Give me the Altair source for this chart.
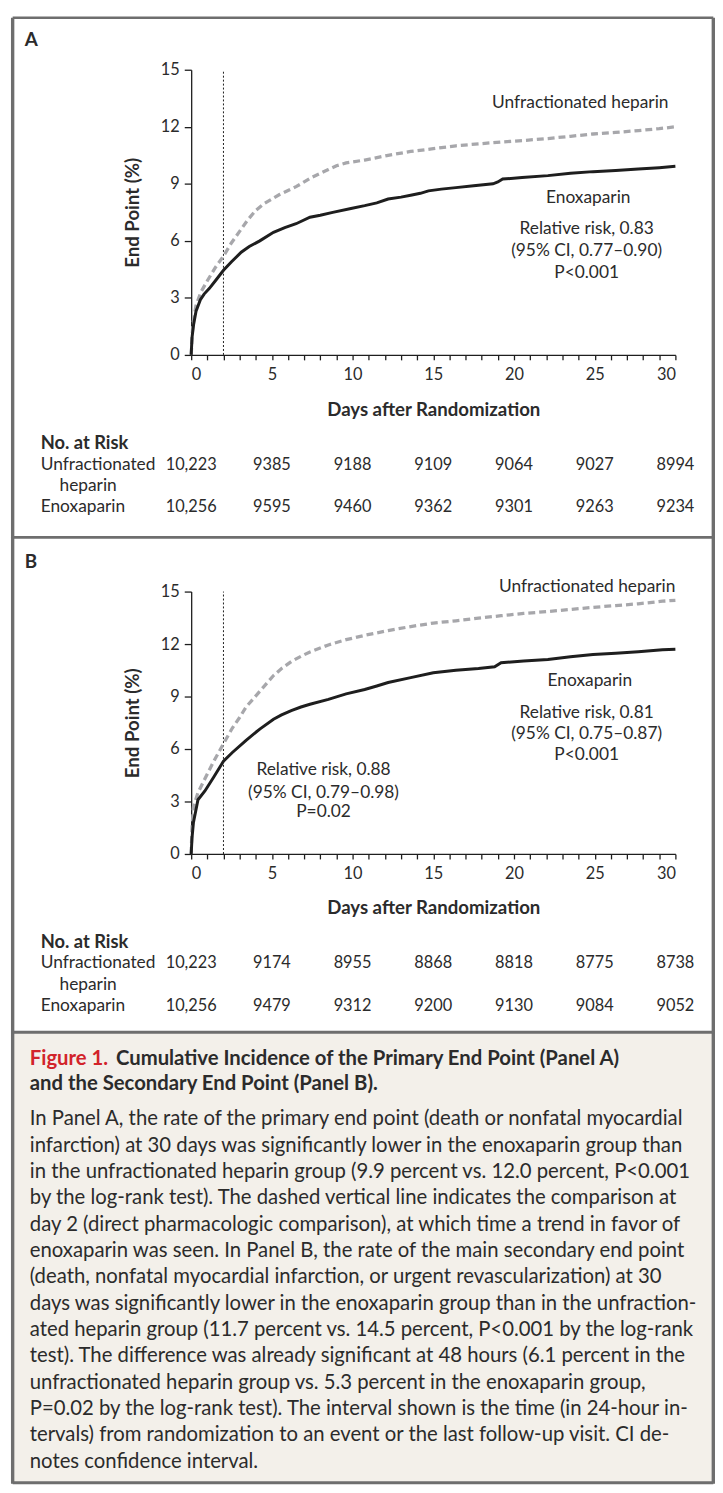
import altair as alt
import pandas as pd

FONT = "Lato"
INK = "#1e1e1e"
TXT = "#2b2b2b"
GRAY_LINE = "#a7a7ab"
BORDER = "#6e6e6e"
BEIGE = "#f3f0ea"
RED = "#d2232a"

# ---------------- data ----------------
a_ufh_day = [0, 0.1, 0.3, 0.6, 1.0, 1.5, 2.0, 2.5, 3.0, 3.5, 4.0, 4.5, 5.0, 5.5, 6.0, 6.5,
             7.0, 7.5, 8.0, 8.5, 9.0, 9.6, 10.75, 12.2, 13.6, 15.0, 16.4, 17.8, 19.2, 20.9,
             22.1, 23.5, 24.9, 26.3, 27.7, 29.0, 30.0]
a_ufh_pct = [0, 1.6, 2.6, 3.3, 3.9, 4.6, 5.2, 5.9, 6.5, 7.1, 7.6, 7.95, 8.2, 8.45, 8.65, 8.85,
             9.1, 9.35, 9.55, 9.75, 9.95, 10.1, 10.25, 10.5, 10.7, 10.85, 11.0, 11.1, 11.2, 11.3,
             11.38, 11.5, 11.62, 11.7, 11.8, 11.9, 12.0]
a_enox_day = [0, 0.05, 0.15, 0.3, 0.57, 0.8, 1.13, 1.5, 2.0, 2.5, 3.1, 3.6, 4.25, 5.1, 5.8, 6.5,
              7.36, 8.0, 8.77, 9.9, 10.75, 11.5, 12.2, 13.0, 13.6, 14.2, 14.7, 15.5, 16.4, 17.5,
              18.7, 19.0, 19.3, 20.5, 22.1, 23.5, 24.9, 26.3, 27.7, 29.0, 30.0]
a_enox_pct = [0, 0.9, 1.6, 2.3, 2.9, 3.2, 3.5, 3.9, 4.45, 4.9, 5.4, 5.7, 6.0, 6.45, 6.7, 6.9,
              7.24, 7.35, 7.5, 7.7, 7.85, 8.0, 8.2, 8.3, 8.4, 8.5, 8.63, 8.72, 8.8, 8.9,
              9.0, 9.1, 9.25, 9.33, 9.43, 9.55, 9.64, 9.7, 9.78, 9.85, 9.92]

b_ufh_day = [0, 0.05, 0.14, 0.42, 0.85, 1.4, 2.0, 2.55, 3.0, 3.4, 4.25, 5.1, 5.6, 6.2, 6.8, 7.36,
             8.5, 9.6, 10.75, 12.2, 13.6, 15.0, 16.4, 17.8, 19.2, 20.6, 22.1, 23.5, 24.9, 26.3,
             27.7, 29.2, 30.0]
b_ufh_pct = [0, 1.5, 2.7, 3.5, 4.3, 5.3, 6.3, 7.2, 7.8, 8.4, 9.3, 10.2, 10.6, 11.0, 11.3, 11.55,
             11.95, 12.25, 12.5, 12.77, 13.0, 13.2, 13.33, 13.48, 13.62, 13.75, 13.86, 13.98, 14.1, 14.2,
             14.3, 14.45, 14.5]
b_enox_day = [0, 0.05, 0.14, 0.42, 0.85, 1.4, 2.0, 2.55, 3.4, 4.25, 5.1, 5.6, 6.2, 6.8, 7.36, 8.5,
              9.6, 10.75, 11.5, 12.2, 13.6, 15.0, 16.4, 17.8, 18.8, 19.2, 20.6, 22.1, 23.5, 24.9,
              26.3, 27.7, 29.2, 30.0]
b_enox_pct = [0, 0.9, 1.8, 3.1, 3.6, 4.4, 5.3, 5.8, 6.5, 7.14, 7.7, 7.95, 8.2, 8.4, 8.56, 8.84,
              9.15, 9.4, 9.6, 9.8, 10.08, 10.36, 10.5, 10.6, 10.7, 10.93, 11.03, 11.12, 11.27, 11.4,
              11.48, 11.56, 11.67, 11.7]

x_ticks = list(range(0, 31))
y_ticks = [0, 3, 6, 9, 12, 15]
comparison_day = [2]

risk_days = [0, 5, 10, 15, 20, 25, 30]
a_risk_ufh = [10223, 9385, 9188, 9109, 9064, 9027, 8994]
a_risk_enox = [10256, 9595, 9460, 9362, 9301, 9263, 9234]
b_risk_ufh = [10223, 9174, 8955, 8868, 8818, 8775, 8738]
b_risk_enox = [10256, 9479, 9312, 9200, 9130, 9084, 9052]

a_note_text = ["Enoxaparin", "Relative risk, 0.83", "(95% CI, 0.77\u20130.90)", "P<0.001"]
a_note_day = [24.6, 24.5, 24.5, 24.5]
a_note_pct = [8.23, 6.61, 5.45, 4.32]
a_ufh_label = (["Unfractionated heparin"], [29.57], [13.23])

b_note_text = ["Enoxaparin", "Relative risk, 0.81", "(95% CI, 0.75\u20130.87)", "P<0.001",
               "Relative risk, 0.88", "(95% CI, 0.79\u20130.98)", "P=0.02"]
b_note_day = [24.7, 24.5, 24.5, 24.5, 8.2, 8.2, 8.2]
b_note_pct = [9.9, 8.04, 6.85, 5.66, 4.81, 3.51, 2.38]
b_ufh_label = (["Unfractionated heparin"], [30.0], [15.28])

caption_red = "Figure 1."
caption_title_1 = "Cumulative Incidence of the Primary End Point (Panel A)"
caption_title_2 = "and the Secondary End Point (Panel B)."
caption_body = [
    "In Panel A, the rate of the primary end point (death or nonfatal myocardial",
    "infarction) at 30 days was significantly lower in the enoxaparin group than",
    "in the unfractionated heparin group (9.9 percent vs. 12.0 percent, P<0.001",
    "by the log-rank test). The dashed vertical line indicates the comparison at",
    "day 2 (direct pharmacologic comparison), at which time a trend in favor of",
    "enoxaparin was seen. In Panel B, the rate of the main secondary end point",
    "(death, nonfatal myocardial infarction, or urgent revascularization) at 30",
    "days was significantly lower in the enoxaparin group than in the unfraction-",
    "ated heparin group (11.7 percent vs. 14.5 percent, P<0.001 by the log-rank",
    "test). The difference was already significant at 48 hours (6.1 percent in the",
    "unfractionated heparin group vs. 5.3 percent in the enoxaparin group,",
    "P=0.02 by the log-rank test). The interval shown is the time (in 24-hour in-",
    "tervals) from randomization to an event or the last follow-up visit. CI de-",
    "notes confidence interval.",
]

# ---------------- helpers ----------------
W = 489
ONE = pd.DataFrame({"k": [0]})
CAP = 20.5


def fmt(v):
    return f"{v:,}" if v >= 10000 else str(v)


def enc_x(title_y):
    return alt.X("day:Q", scale=alt.Scale(domain=[0, 30], nice=False, zero=False),
                 axis=alt.Axis(values=x_ticks,
                               labelExpr="datum.value % 5 === 0 ? datum.label : ''",
                               tickSize=5, labelPadding=7,
                               title="Days after Randomization",
                               titleX=W / 2, titleY=title_y,
                               titleAlign="center", titleBaseline="middle"))


def enc_y(h):
    return alt.Y("pct:Q", scale=alt.Scale(domain=[0, 15], nice=False),
                 axis=alt.Axis(values=y_ticks, tickSize=7, labelPadding=5,
                               title="End Point (%)", titleX=-59, titleY=h / 2,
                               titleAngle=270, titleAlign="center", titleBaseline="middle"))


def hrule(x1, x2, y, w=2.6, color=BORDER):
    return alt.Chart(ONE).mark_rule(color=color, strokeWidth=w).encode(
        x=alt.value(x1), x2=alt.value(x2), y=alt.value(y))


def vrule(x, y1, y2, w=3.4, color=BORDER):
    return alt.Chart(ONE).mark_rule(color=color, strokeWidth=w).encode(
        x=alt.value(x), y=alt.value(y1), y2=alt.value(y2))


def label(text, x, y, size=17.5, weight="normal", align="left", color=TXT,
          baseline="middle", line_height=None):
    kw = dict(text=text, fontSize=size, fontWeight=weight, align=align,
              baseline=baseline, color=color, font=FONT)
    if line_height is not None:
        kw["lineHeight"] = line_height
    return alt.Chart(ONE).mark_text(**kw).encode(x=alt.value(x), y=alt.value(y))


def panel(letter, h, title_y, ufh_d, ufh_p, enox_d, enox_p, notes, ufh_lab,
          risk_ufh, risk_enox, rows_y, decorations_before, decorations_after):
    X = enc_x(title_y)
    Y = enc_y(h)
    ufh = alt.Chart(pd.DataFrame({"day": ufh_d, "pct": ufh_p})).mark_line(
        color=GRAY_LINE, strokeWidth=3.3, strokeDash=[7, 4]).encode(x=X, y=Y)
    enox = alt.Chart(pd.DataFrame({"day": enox_d, "pct": enox_p})).mark_line(
        color=INK, strokeWidth=3.0).encode(x=X, y=Y)
    vline = alt.Chart(pd.DataFrame({"day": comparison_day, "pct": [0], "pct2": [15]})).mark_rule(
        color=INK, strokeWidth=1, strokeDash=[2, 2]).encode(x=X, y=Y, y2="pct2:Q")
    note_df = pd.DataFrame({"day": notes[1], "pct": notes[2], "label": notes[0]})
    note_layer = alt.Chart(note_df).mark_text(
        align="center", baseline="middle", fontSize=17.5, font=FONT, color=TXT).encode(
        x=X, y=Y, text="label:N")
    ufh_df = pd.DataFrame({"day": ufh_lab[1], "pct": ufh_lab[2], "label": ufh_lab[0]})
    ufh_layer = alt.Chart(ufh_df).mark_text(
        align="right", baseline="middle", fontSize=17.5, font=FONT, color=TXT).encode(
        x=X, y=Y, text="label:N")
    risk_layers = []
    for vals, yy in ((risk_ufh, rows_y[1]), (risk_enox, rows_y[3])):
        rdf = pd.DataFrame({"day": risk_days, "n": [fmt(v) for v in vals]})
        risk_layers.append(alt.Chart(rdf).mark_text(
            align="center", baseline="middle", fontSize=16.5, font=FONT, color=TXT).encode(
            x=X, y=alt.value(yy), text="n:N"))
    texts = [
        label(letter, -168, -30, size=19, weight="bold"),
        label("No. at Risk", -152, rows_y[0], size=18.5, weight="bold"),
        label("Unfractionated", -152, rows_y[1]),
        label("heparin", -133, rows_y[2]),
        label("Enoxaparin", -152, rows_y[3]),
    ]
    layers = decorations_before + [vline, ufh, enox, note_layer, ufh_layer] + risk_layers + texts + decorations_after
    return alt.layer(*layers).properties(width=W, height=h)


# Panel A: plot origin at page (193, 63)
HA = 288
LX, RX = -180.3, 527.3
deco_a = [
    alt.Chart(ONE).mark_rect(opacity=0).encode(
        x=alt.value(-185), x2=alt.value(-184), y=alt.value(-55), y2=alt.value(-54)),
    hrule(LX, RX, -52.5),
    vrule(LX, -52.5, 473),
    vrule(RX, -52.5, 473),
    hrule(LX, RX, 472.3),
]
panel_a = panel("A", HA, 55, a_ufh_day, a_ufh_pct, a_enox_day, a_enox_pct,
                (a_note_text, a_note_day, a_note_pct), a_ufh_label,
                a_risk_ufh, a_risk_enox, [377, 399, 420, 442], deco_a, [])

# Panel B: plot origin at page (193, 590)
HB = 265
BOT = 900
deco_b_before = [
    alt.Chart(ONE).mark_rect(color=BEIGE).encode(
        x=alt.value(LX), x2=alt.value(RX), y=alt.value(445), y2=alt.value(BOT)),
]
deco_b_after = [
    vrule(LX, -55, BOT + 1),
    vrule(RX, -55, BOT + 1),
    hrule(LX, RX, 445, w=3),
    hrule(LX, RX, BOT, w=3),
    label(caption_red, -163, 472, size=CAP, weight="bold", color=RED),
    label(caption_title_1, -76, 472, size=CAP, weight="bold", color=TXT),
    label(caption_title_2, -163, 497, size=CAP, weight="bold", color=TXT),
    label(caption_body, -163, 523, size=CAP, baseline="top", line_height=26.6),
]
panel_b = panel("B", HB, 54, b_ufh_day, b_ufh_pct, b_enox_day, b_enox_pct,
                (b_note_text, b_note_day, b_note_pct), b_ufh_label,
                b_risk_ufh, b_risk_enox, [354, 375, 397, 419], deco_b_before, deco_b_after)

chart = alt.vconcat(panel_a, panel_b, spacing=239, bounds="flush").properties(
    padding=0, background="white"
).configure_view(stroke=None).configure_axis(
    grid=False, domainColor=INK, tickColor=INK, domainWidth=1.3, tickWidth=1.3,
    labelFont=FONT, labelFontSize=16.5, labelColor=TXT,
    titleFont=FONT, titleFontSize=18.8, titleFontWeight="bold", titleColor=TXT,
)

chart.save("out.html", embed_options={"renderer": "svg", "actions": False})
